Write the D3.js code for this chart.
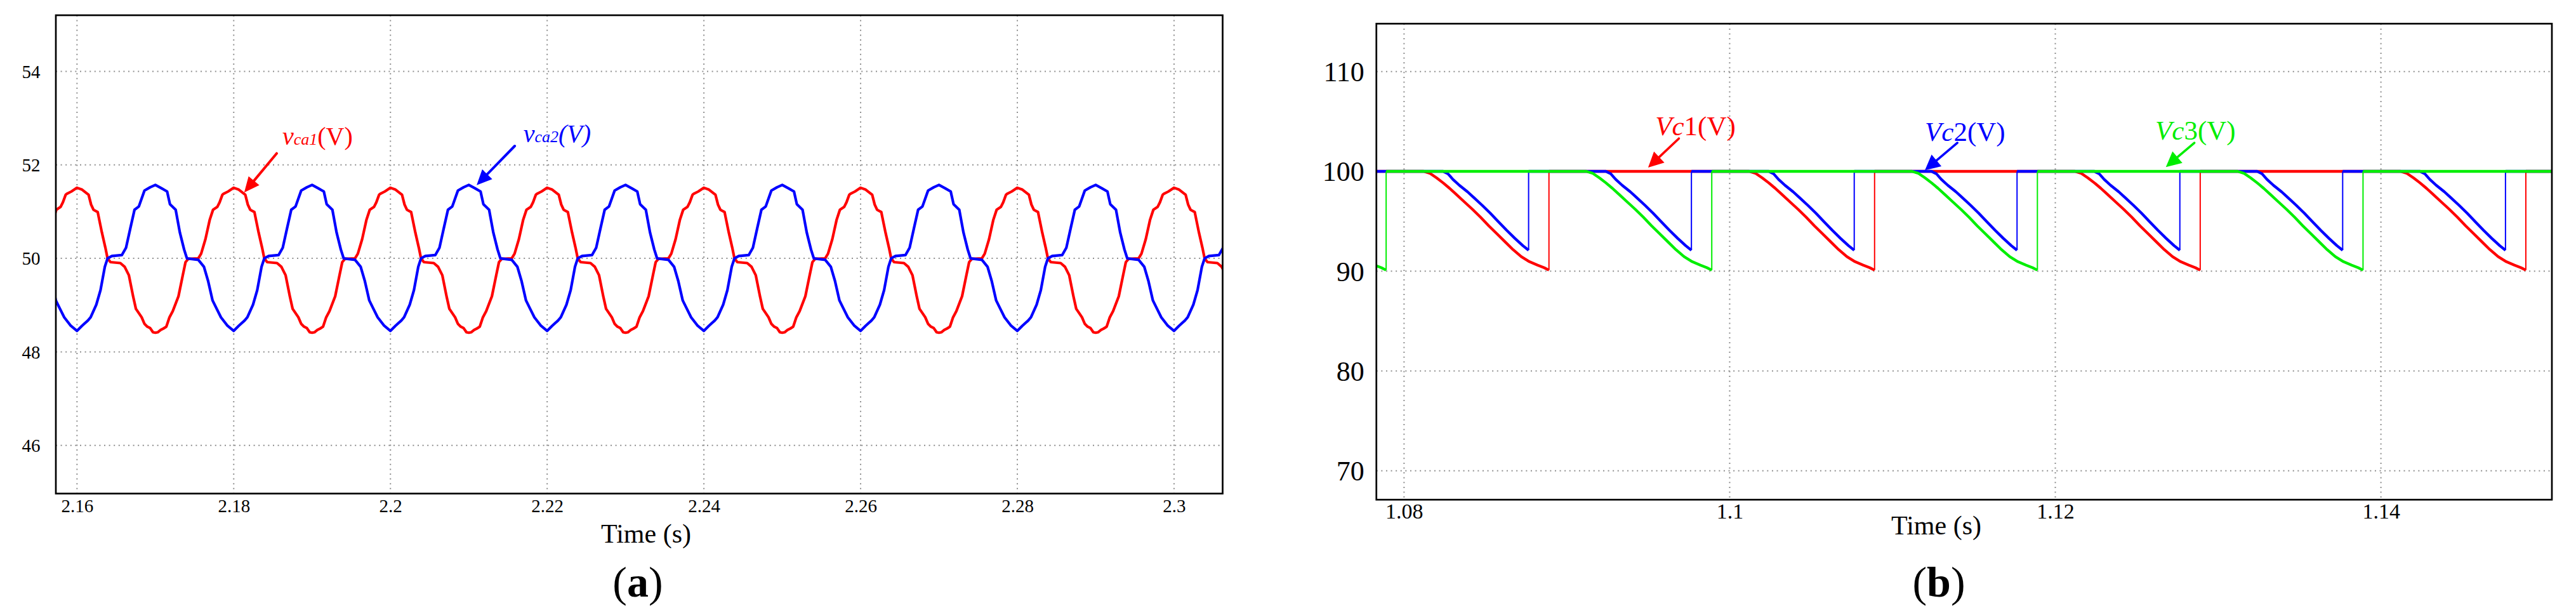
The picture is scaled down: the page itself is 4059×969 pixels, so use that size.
<!DOCTYPE html>
<html><head><meta charset="utf-8">
<script src="https://cdn.jsdelivr.net/npm/d3@7"></script>
<style>
body{margin:0;background:#fff;}
text{font-family:"Liberation Serif","Times New Roman",serif;}
</style>
</head><body>
<svg id="chart" width="4059" height="969"></svg>
<script>
// ---------- Panel (a) data ----------
const aXTicks = [2.16, 2.18, 2.2, 2.22, 2.24, 2.26, 2.28, 2.3];
const aXTickLabels = ["2.16", "2.18", "2.2", "2.22", "2.24", "2.26", "2.28", "2.3"];
const aYTicks = [46, 48, 50, 52, 54];
const aCycleStarts = [2.14, 2.16, 2.18, 2.20, 2.22, 2.24, 2.26, 2.28, 2.30];
const vca1CycleMs = [0, 0.65, 1.48, 1.8, 2.1, 2.64, 3.18, 3.62, 3.9, 4.27, 5.53, 6.08, 6.62, 7.16, 7.52, 8.25, 8.61, 8.97, 9.33, 9.7, 10.0, 10.3, 10.67, 11.03, 11.4, 11.8, 12.22, 12.95, 13.5, 13.85, 14.2, 15.48, 15.84, 16.39, 16.93, 17.36, 17.9, 18.2, 18.55, 18.7, 19.28, 20];
const vca1CycleV  = [51.51, 51.47, 51.36, 51.15, 51.04, 50.99, 50.55, 50.23, 50.0, 49.92, 49.9, 49.82, 49.64, 49.19, 48.92, 48.74, 48.6, 48.54, 48.51, 48.42, 48.41, 48.42, 48.47, 48.5, 48.54, 48.74, 48.87, 49.19, 49.64, 49.92, 49.99, 50.0, 50.1, 50.41, 50.82, 51.04, 51.1, 51.2, 51.36, 51.38, 51.43, 51.51];
const vca2CycleMs = [0, 0.65, 1.38, 1.74, 2.46, 3.0, 3.55, 3.9, 4.45, 5.72, 6.26, 6.8, 7.34, 7.89, 8.61, 9.33, 10.0, 10.78, 11.5, 11.86, 12.59, 13.13, 13.67, 14.03, 15.48, 16.2, 16.74, 17.3, 17.83, 18.37, 19.2, 20];
const vca2CycleV  = [48.45, 48.56, 48.67, 48.74, 49.01, 49.32, 49.82, 50.0, 50.05, 50.07, 50.23, 50.64, 51.04, 51.11, 51.45, 51.52, 51.57, 51.5, 51.43, 51.16, 51.04, 50.55, 50.19, 50.0, 49.97, 49.82, 49.51, 49.1, 48.92, 48.74, 48.56, 48.45];

// ---------- Panel (b) data ----------
const bXTicks = [1.08, 1.1, 1.12, 1.14];
const bXTickLabels = ["1.08", "1.1", "1.12", "1.14"];
const bYTicks = [70, 80, 90, 100, 110];
const bBaseLevel = 100;
const vc1DropStarts = [1.0812, 1.1012, 1.1212, 1.1412];
const vc3DropStarts = [1.0712, 1.0912, 1.1112, 1.1312];
const vc2DropStarts = [1.0724, 1.0824, 1.0924, 1.1024, 1.1124, 1.1224, 1.1324, 1.1424];
const longDropMs = [0, 0.4, 0.8, 1.2, 1.6, 2.0, 2.5, 3.0, 3.5, 4.0, 4.5, 5.0, 5.5, 6.0, 6.5, 7.0, 7.4, 7.7];
const longDropV  = [100, 99.8, 99.35, 98.85, 98.3, 97.7, 96.95, 96.2, 95.4, 94.55, 93.75, 92.95, 92.15, 91.45, 90.95, 90.6, 90.35, 90.1];
const shortDropMs = [0, 0.3, 0.6, 1.0, 1.5, 1.9, 2.4, 2.9, 3.4, 3.9, 4.4, 4.9, 5.25];
const shortDropV  = [100, 99.75, 99.2, 98.6, 97.95, 97.35, 96.6, 95.8, 94.95, 94.1, 93.3, 92.55, 92.1];

const FONT = '"Liberation Serif","Times New Roman",serif';
const svg = d3.select("#chart");
svg.append("rect").attr("width", 4059).attr("height", 969).attr("fill", "#fff");

function arrow(g, x1, y1, x2, y2, color, len, half, sw) {
  const dx = x2 - x1, dy = y2 - y1, L = Math.hypot(dx, dy);
  const ux = dx / L, uy = dy / L;
  const bx = x2 - ux * len, by = y2 - uy * len;
  g.append("line").attr("x1", x1).attr("y1", y1).attr("x2", bx + ux * 2).attr("y2", by + uy * 2)
    .attr("stroke", color).attr("stroke-width", sw).attr("stroke-linecap", "round");
  g.append("path").attr("d", `M${x2},${y2}L${bx - uy * half},${by + ux * half}L${bx + uy * half},${by - ux * half}Z`)
    .attr("fill", color);
}

function frame(g, id, x, y, xTicks, xLabels, yTicks, xFont, yFont, xLabelY, yLabelX) {
  const [L, R] = x.range(), [B, T] = y.range();
  g.append("clipPath").attr("id", id).append("rect").attr("x", L).attr("y", T).attr("width", R - L).attr("height", B - T);
  g.append("g").selectAll("line").data(xTicks).join("line")
    .attr("x1", d => x(d)).attr("x2", d => x(d)).attr("y1", T).attr("y2", B)
    .attr("stroke", "#8f8f8f").attr("stroke-width", 2).attr("stroke-dasharray", "2,5.6");
  g.append("g").selectAll("line").data(yTicks).join("line")
    .attr("y1", d => y(d)).attr("y2", d => y(d)).attr("x1", L).attr("x2", R)
    .attr("stroke", "#8f8f8f").attr("stroke-width", 2).attr("stroke-dasharray", "2,5.6");
  const ax = g.append("g").attr("transform", `translate(0,${B})`)
    .call(d3.axisBottom(x).tickValues(xTicks).tickFormat((d, i) => xLabels[i]).tickSize(0));
  ax.select(".domain").remove();
  ax.attr("font-family", FONT);
  ax.selectAll("text").attr("y", xLabelY).attr("dy", null).attr("font-size", xFont)
    .style("font-family", FONT).attr("fill", "#000");
  const ay = g.append("g").attr("transform", `translate(${L},0)`)
    .call(d3.axisLeft(y).tickValues(yTicks).tickFormat(d3.format("d")).tickSize(0));
  ay.select(".domain").remove();
  ay.attr("font-family", FONT);
  ay.selectAll("text").attr("x", -yLabelX).attr("dy", "0.34em").attr("font-size", yFont)
    .style("font-family", FONT).attr("fill", "#000");
}

function border(g, x, y) {
  const [L, R] = x.range(), [B, T] = y.range();
  g.append("rect").attr("x", L).attr("y", T).attr("width", R - L).attr("height", B - T)
    .attr("fill", "none").attr("stroke", "#000").attr("stroke-width", 2.7);
}

// ================= Panel (a) =================
const ga = svg.append("g");
const xa = d3.scaleLinear().domain([2.1573, 2.3062]).range([88, 1926.5]);
const ya = d3.scaleLinear().domain([44.97, 55.2]).range([777.7, 24]);
frame(ga, "clipA", xa, ya, aXTicks, aXTickLabels, aYTicks, 29, 29, 29, 24.6);

function periodic(starts, ms, vals) {
  const pts = [];
  starts.forEach((s, k) => {
    ms.forEach((m, i) => {
      if (k > 0 && i === 0) return;
      pts.push([s + m / 1000, vals[i]]);
    });
  });
  return pts;
}
const vca1 = periodic(aCycleStarts, vca1CycleMs, vca1CycleV);
const vca2 = periodic(aCycleStarts, vca2CycleMs, vca2CycleV);
const lineA = d3.line().x(d => xa(d[0])).y(d => ya(d[1]));
const plotA = ga.append("g").attr("clip-path", "url(#clipA)");
plotA.append("path").attr("d", lineA(vca1)).attr("fill", "none").attr("stroke", "#ff0000")
  .attr("stroke-width", 4.2).attr("stroke-linejoin", "round");
plotA.append("path").attr("d", lineA(vca2)).attr("fill", "none").attr("stroke", "#0000ff")
  .attr("stroke-width", 4.2).attr("stroke-linejoin", "round");
border(ga, xa, ya);

arrow(ga, xa(2.18548), ya(52.245), xa(2.18134), ya(51.409), "#ff0000", 24, 11, 4);
arrow(ga, xa(2.21586), ya(52.404), xa(2.2110), ya(51.566), "#0000ff", 24, 11, 4);
const t1 = ga.append("text").attr("x", xa(2.18621)).attr("y", ya(52.431)).attr("fill", "#ff0000");
t1.append("tspan").attr("font-style", "italic").attr("font-size", 40).text("v");
t1.append("tspan").attr("font-style", "italic").attr("font-size", 26).text("ca1");
t1.append("tspan").attr("font-size", 40).text("(V)");
const t2 = ga.append("text").attr("x", xa(2.21696)).attr("y", ya(52.485)).attr("fill", "#0000ff").attr("font-style", "italic");
t2.append("tspan").attr("font-size", 40).text("v");
t2.append("tspan").attr("font-size", 26).text("ca2");
t2.append("tspan").attr("font-size", 40).text("(V)");

ga.append("text").attr("x", 1018).attr("y", 855).attr("text-anchor", "middle").attr("font-size", 42).text("Time (s)");
const la = ga.append("text").attr("x", 1005).attr("y", 940).attr("text-anchor", "middle").attr("font-size", 68);
la.append("tspan").text("(");
la.append("tspan").attr("font-weight", "bold").text("a");
la.append("tspan").text(")");

// ================= Panel (b) =================
const gb = svg.append("g");
const xb = d3.scaleLinear().domain([1.0783, 1.1505]).range([2168.75, 4021]);
const yb = d3.scaleLinear().domain([67.1, 114.8]).range([787.3, 37.3]);
frame(gb, "clipB", xb, yb, bXTicks, bXTickLabels, bYTicks, 34, 44, 29.4, 19);

function dropSeries(starts, ms, vals) {
  const pieces = [], jumps = [];
  let cur = [[1.06, bBaseLevel]];
  starts.forEach(s => {
    cur.push([s, bBaseLevel]);
    ms.forEach((m, i) => { if (i > 0) cur.push([s + m / 1000, vals[i]]); });
    pieces.push(cur);
    const tEnd = s + ms[ms.length - 1] / 1000;
    jumps.push([[tEnd, vals[vals.length - 1]], [tEnd, bBaseLevel]]);
    cur = [[tEnd, bBaseLevel]];
  });
  cur.push([1.16, bBaseLevel]);
  pieces.push(cur);
  return { pieces, jumps };
}
const lineB = d3.line().x(d => xb(d[0])).y(d => yb(d[1]));
const plotB = gb.append("g").attr("clip-path", "url(#clipB)");
[
  [dropSeries(vc1DropStarts, longDropMs, longDropV), "#ff0000"],
  [dropSeries(vc2DropStarts, shortDropMs, shortDropV), "#0000ff"],
  [dropSeries(vc3DropStarts, longDropMs, longDropV), "#00ee00"]
].forEach(([s, c]) => {
  const g = plotB.append("g");
  g.selectAll("path.j").data(s.jumps).join("path").attr("class", "j").attr("d", lineB)
    .attr("fill", "none").attr("stroke", c).attr("stroke-width", 2);
  g.selectAll("path.p").data(s.pieces).join("path").attr("class", "p").attr("d", lineB)
    .attr("fill", "none").attr("stroke", c).attr("stroke-width", 4.3).attr("stroke-linejoin", "round");
});
border(gb, xb, yb);

arrow(gb, xb(1.09688), yb(103.29), xb(1.09499), yb(100.38), "#ff0000", 24, 12, 3.6);
arrow(gb, xb(1.11398), yb(102.86), xb(1.11199), yb(100.11), "#0000ff", 24, 12, 3.6);
arrow(gb, xb(1.12854), yb(102.86), xb(1.12679), yb(100.43), "#00ee00", 24, 12, 3.6);
function vcLabel(t, v, num, color) {
  const tx = gb.append("text").attr("x", xb(t)).attr("y", yb(v)).attr("fill", color).attr("font-size", 43);
  tx.append("tspan").attr("font-style", "italic").text("Vc");
  tx.append("tspan").text(num + "(V)");
}
vcLabel(1.09543, 103.64, "1", "#ff0000");
vcLabel(1.11199, 103.07, "2", "#0000ff");
vcLabel(1.12614, 103.18, "3", "#00ee00");

gb.append("text").attr("x", 3051).attr("y", 842).attr("text-anchor", "middle").attr("font-size", 42).text("Time (s)");
const lb = gb.append("text").attr("x", 3055).attr("y", 940).attr("text-anchor", "middle").attr("font-size", 68);
lb.append("tspan").text("(");
lb.append("tspan").attr("font-weight", "bold").text("b");
lb.append("tspan").text(")");
</script>
</body></html>
